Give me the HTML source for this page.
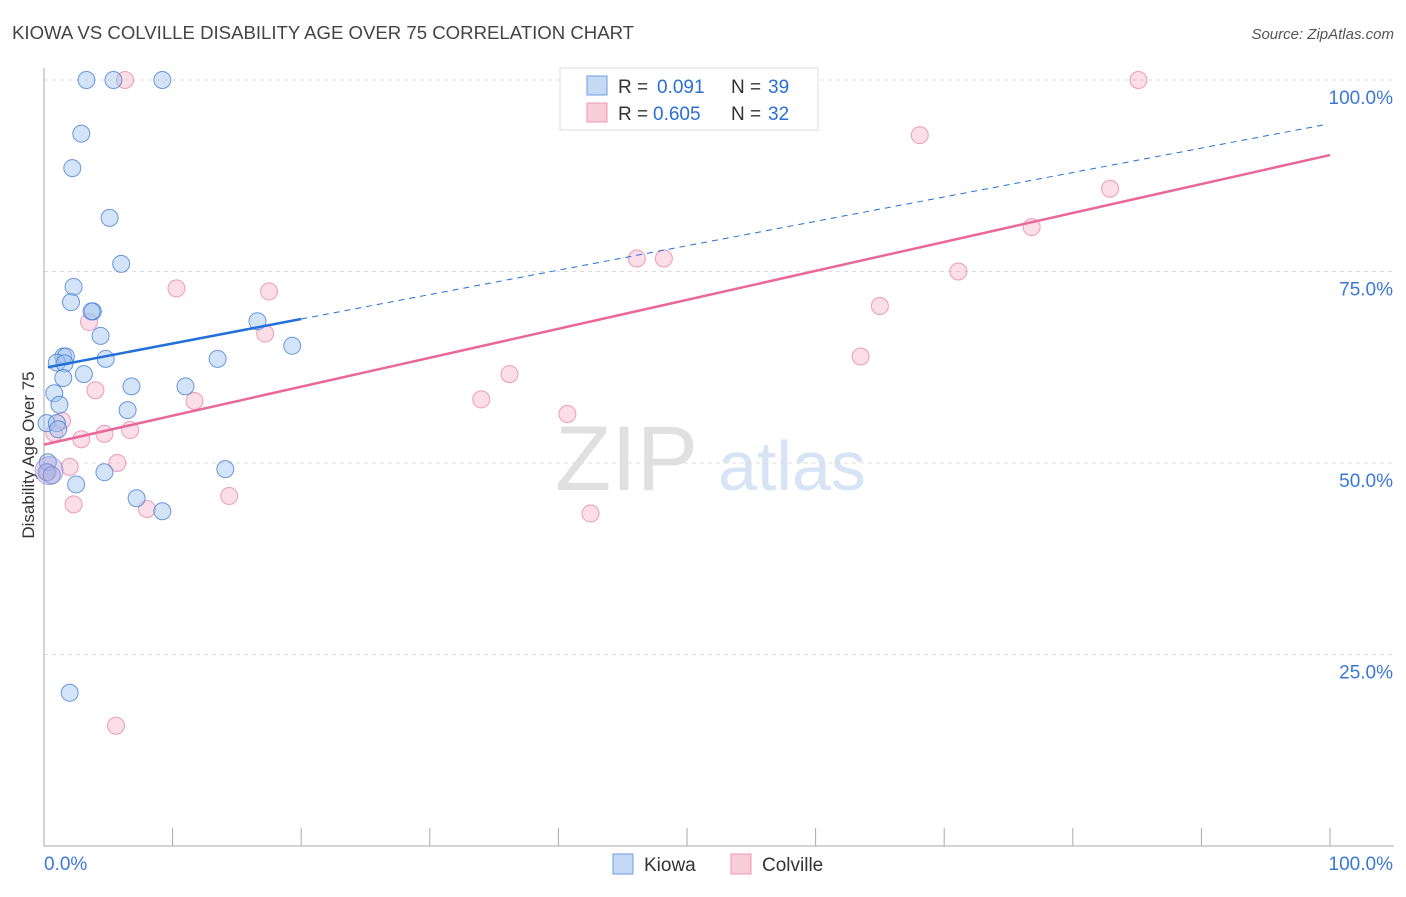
<!DOCTYPE html>
<html><head><meta charset="utf-8"><style>
body{margin:0;background:#fff;font-family:"Liberation Sans",sans-serif;}
svg text{font-family:"Liberation Sans",sans-serif;}
</style></head><body>
<svg id="chart" width="1406" height="892" xmlns="http://www.w3.org/2000/svg">
<text x="12" y="39" font-size="18.6" fill="#444">KIOWA VS COLVILLE DISABILITY AGE OVER 75 CORRELATION CHART</text>
<text x="1394" y="39" font-size="15" fill="#555" text-anchor="end" font-style="italic">Source: ZipAtlas.com</text>
<text x="555" y="490" font-size="92" fill="#e0e0e0" font-family="Liberation Serif">ZIP</text>
<text x="718" y="490" font-size="70" fill="#d6e4f5">atlas</text>
<text transform="translate(34,455) rotate(-90)" font-size="17" fill="#333" text-anchor="middle">Disability Age Over 75</text>
<g id="grid"></g><g id="pts"></g><g id="lines"></g>
<g>
<rect x="560" y="68" width="258" height="62" fill="#fff" stroke="#ddd"/>
<rect x="587" y="76" width="20" height="19" fill="#c5d9f5" stroke="#6a9ee3"/>
<text x="618" y="93" font-size="19" fill="#333">R =</text>
<text x="657" y="93" font-size="19" fill="#2a6fd6">0.091</text>
<text x="731" y="93" font-size="19" fill="#333">N =</text>
<text x="768" y="93" font-size="19" fill="#2a6fd6">39</text>
<rect x="587" y="103" width="20" height="19" fill="#f9ccd9" stroke="#ee9ab3"/>
<text x="618" y="120" font-size="19" fill="#333">R =</text>
<text x="653" y="120" font-size="19" fill="#2a6fd6">0.605</text>
<text x="731" y="120" font-size="19" fill="#333">N =</text>
<text x="768" y="120" font-size="19" fill="#2a6fd6">32</text>
</g>
<g>
<rect x="613" y="854" width="20" height="20" fill="#c5d9f5" stroke="#6a9ee3"/>
<text x="644" y="871" font-size="19" fill="#333">Kiowa</text>
<rect x="731" y="854" width="20" height="20" fill="#f9ccd9" stroke="#ee9ab3"/>
<text x="762" y="871" font-size="19" fill="#333">Colville</text>
</g>
</svg>
<script>
const yTicks=[25,50,75,100];
const xTickLabels=["0.0%","100.0%"];
const kiowaX=[3.3,5.4,9.2,2.9,2.2,5.1,6.0,2.3,2.1,3.8,3.7,4.4,16.6,19.3,1.5,1.7,1.0,1.6,4.8,13.5,3.1,1.5,6.8,11.0,0.8,1.2,6.5,0.2,1.0,1.1,0.3,0.2,0.6,4.7,14.1,2.5,7.2,9.2,2.0];
const kiowaY=[100,100,100,93,88.5,82,76,73,71,69.8,69.8,66.6,68.5,65.3,63.9,63.9,63.1,63.0,63.6,63.6,61.6,61.1,60.0,60.0,59.1,57.6,56.9,55.2,55.2,54.4,50.1,48.8,48.4,48.8,49.2,47.2,45.4,43.7,20.0];
const colvX=[6.3,85.1,68.1,82.9,76.8,46.1,48.2,71.1,10.3,17.5,65.0,3.5,17.2,63.5,36.2,4.0,11.7,34.0,40.7,1.4,6.7,4.7,2.9,0.8,5.7,2.0,0.3,14.4,2.3,8.0,42.5,5.6];
const colvY=[100,100,92.8,85.8,80.8,76.7,76.7,75.0,72.8,72.4,70.5,68.4,66.9,63.9,61.6,59.5,58.1,58.3,56.4,55.5,54.3,53.8,53.1,53.9,50.0,49.5,48.8,45.7,44.6,44.0,43.4,15.7];
const kiowaLine=[62.5,68.8,94.2];
const colvLine=[52.4,90.2];
const X0=44,X1=1330,Y0=846,Y100=80;
const sx=v=>X0+(X1-X0)*v/100, sy=v=>Y0-(Y0-Y100)*v/100;
const NS="http://www.w3.org/2000/svg";
function mk(tag,at,parent){const e=document.createElementNS(NS,tag);for(const k in at)e.setAttribute(k,at[k]);document.getElementById(parent).appendChild(e);return e;}
yTicks.forEach(t=>{
 const l=mk('line',{x1:X0,x2:1394,y1:sy(t),y2:sy(t),stroke:'#ddd','stroke-dasharray':'4,4'},'grid');
 
 
 const tx=mk('text',{x:1393,y:sy(t)+24,'font-size':19,fill:'#3b78d6','text-anchor':'end'},'grid');
 tx.textContent=t.toFixed(1)+'%';
 
 
});
const ya=mk('line',{x1:X0,x2:X0,y1:68,y2:846,stroke:'#aaa'},'grid');


const xa=mk('line',{x1:X0,x2:1394,y1:846,y2:846,stroke:'#aaa'},'grid');


for(let i=1;i<=10;i++){const t=mk('line',{x1:sx(i*10),x2:sx(i*10),y1:828,y2:846,stroke:'#aaa'},'grid');
 
 }
const xl0=mk('text',{x:44,y:870,'font-size':19,fill:'#3b78d6'},'grid');xl0.textContent=xTickLabels[0];


const xl1=mk('text',{x:1393,y:870,'font-size':19,fill:'#3b78d6','text-anchor':'end'},'grid');xl1.textContent=xTickLabels[1];


colvX.forEach((x,i)=>{const c=mk('circle',{cx:sx(x),cy:sy(colvY[i]),r:8.5,fill:'rgba(244,160,188,0.35)',stroke:'rgba(232,120,160,0.7)','stroke-width':1},'pts');
 
 });
kiowaX.forEach((x,i)=>{const c=mk('circle',{cx:sx(x),cy:sy(kiowaY[i]),r:8.5,fill:'rgba(160,196,240,0.45)',stroke:'rgba(60,120,210,0.75)','stroke-width':1},'pts');
 
 });
const big=mk('circle',{cx:sx(0.4),cy:sy(49),r:14,fill:'rgba(180,160,220,0.4)',stroke:'rgba(120,130,210,0.6)'},'pts');


const kl=mk('line',{x1:sx(0.3),y1:sy(kiowaLine[0]),x2:sx(20),y2:sy(kiowaLine[1]),stroke:'#2470d8','stroke-width':2.5},'lines');


const kd=mk('line',{x1:sx(20),y1:sy(kiowaLine[1]),x2:sx(99.7),y2:sy(kiowaLine[2]),stroke:'#2470d8','stroke-width':1,'stroke-dasharray':'6,5'},'lines');


const cl=mk('line',{x1:sx(0),y1:sy(colvLine[0]),x2:sx(100),y2:sy(colvLine[1]),stroke:'#e8689a','stroke-width':2.5},'lines');


</script>
</body></html>
